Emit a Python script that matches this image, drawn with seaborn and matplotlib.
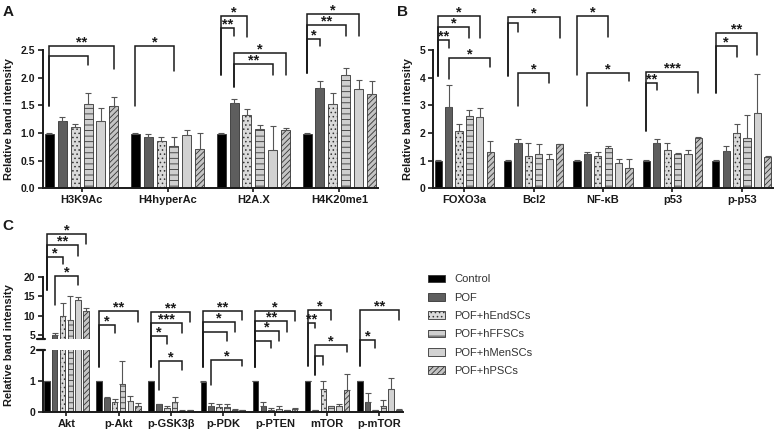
import numpy as np
import pandas as pd
import matplotlib
matplotlib.use("Agg")
import matplotlib.pyplot as plt
import seaborn as sns
from matplotlib.patches import Patch

groups = ["Control", "POF", "POF+hEndSCs", "POF+hFFSCs", "POF+hMenSCs", "POF+hPSCs"]

# panel A - histone marks
a_targets = ["H3K9Ac", "H4hyperAc", "H2A.X", "H4K20me1"]
a_means = [
    [0.99, 1.21, 1.11, 1.52, 1.21, 1.48],
    [0.99, 0.92, 0.86, 0.77, 0.96, 0.72],
    [0.99, 1.54, 1.32, 1.07, 0.70, 1.05],
    [0.98, 1.82, 1.52, 2.04, 1.80, 1.70],
]
a_errs = [
    [0.01, 0.08, 0.05, 0.20, 0.24, 0.18],
    [0.01, 0.07, 0.06, 0.15, 0.10, 0.28],
    [0.01, 0.07, 0.12, 0.07, 0.43, 0.04],
    [0.02, 0.12, 0.20, 0.13, 0.15, 0.24],
]

# panel B - apoptosis / stress
b_targets = ["FOXO3a", "Bcl2", "NF-κB", "p53", "p-p53"]
b_means = [
    [1.0, 2.95, 2.06, 2.62, 2.57, 1.32],
    [1.0, 1.63, 1.18, 1.23, 1.06, 1.61],
    [1.0, 1.23, 1.17, 1.46, 0.90, 0.72],
    [1.0, 1.63, 1.38, 1.26, 1.26, 1.81],
    [1.0, 1.36, 1.99, 1.83, 2.71, 1.14],
]
b_errs = [
    [0.01, 0.78, 0.25, 0.23, 0.34, 0.40],
    [0.01, 0.14, 0.45, 0.37, 0.20, 0.01],
    [0.01, 0.07, 0.13, 0.07, 0.16, 0.34],
    [0.01, 0.14, 0.25, 0.01, 0.12, 0.06],
    [0.01, 0.17, 0.33, 0.84, 1.41, 0.02],
]

# panel C - Akt/mTOR pathway
c_targets = ["Akt", "p-Akt", "p-GSK3β", "p-PDK", "p-PTEN", "mTOR", "p-mTOR"]
c_means = [
    [1.0, 5.0, 10.0, 9.0, 14.0, 11.3],
    [1.0, 0.46, 0.33, 0.89, 0.36, 0.17],
    [1.0, 0.25, 0.13, 0.30, 0.03, 0.05],
    [0.97, 0.20, 0.15, 0.14, 0.07, 0.05],
    [1.0, 0.19, 0.07, 0.10, 0.05, 0.10],
    [1.0, 0.05, 0.75, 0.17, 0.20, 0.72],
    [1.0, 0.30, 0.05, 0.20, 0.75, 0.05],
]
c_errs = [
    [0.01, 0.6, 3.3, 6.0, 0.8, 0.7],
    [0.01, 0.02, 0.09, 0.76, 0.15, 0.10],
    [0.01, 0.01, 0.07, 0.18, 0.01, 0.01],
    [0.01, 0.08, 0.10, 0.12, 0.02, 0.01],
    [0.01, 0.12, 0.06, 0.08, 0.01, 0.03],
    [0.01, 0.01, 0.23, 0.02, 0.05, 0.51],
    [0.01, 0.32, 0.01, 0.17, 0.34, 0.05],
]

# significance brackets: (target idx, left bar, right bar, top, left foot, right foot, label)
a_brackets = [
    (0, 0, 5, 2.57, 1.48, 2.15, "**"),
    (0, 0, 3, 2.40, 1.48, 2.23, ""),
    (1, 0, 3, 2.57, 1.48, 2.13, "*"),
    (2, 0, 2, 3.12, 2.05, 2.73, "*"),
    (2, 0, 1, 2.89, 2.05, 2.75, "**"),
    (2, 1, 5, 2.45, 1.83, 2.05, "*"),
    (2, 1, 4, 2.24, 1.83, 2.05, "**"),
    (3, 0, 4, 3.15, 2.09, 2.76, "*"),
    (3, 0, 3, 2.95, 2.09, 2.76, "**"),
    (3, 0, 1, 2.70, 2.09, 2.57, "*"),
]
b_brackets = [
    (0, 0, 4, 6.23, 4.06, 5.42, "*"),
    (0, 0, 3, 5.84, 4.06, 5.44, "*"),
    (0, 0, 1, 5.38, 4.06, 5.08, "**"),
    (0, 1, 5, 4.73, 3.94, 4.37, "*"),
    (1, 0, 5, 6.18, 4.06, 5.44, "*"),
    (1, 0, 1, 5.96, 4.06, 5.66, ""),
    (1, 1, 4, 4.16, 2.97, 3.82, "*"),
    (2, 0, 3, 6.23, 4.10, 5.46, "*"),
    (2, 1, 5, 4.18, 2.97, 3.89, "*"),
    (3, 0, 5, 4.21, 2.08, 3.46, "***"),
    (3, 0, 1, 3.82, 2.08, 3.55, "**"),
    (4, 0, 4, 5.62, 3.46, 4.82, "**"),
    (4, 0, 2, 5.14, 3.46, 4.76, "*"),
]
c_top_brackets = [
    (0, 0, 5, 31.0, 16.7, 28.4, "*"),
    (0, 0, 4, 28.3, 16.7, 25.5, "**"),
    (0, 0, 2, 25.2, 16.7, 23.3, "*"),
    (0, 1, 4, 20.3, 12.9, 18.0, "*"),
]
c_brackets = [
    (1, 0, 5, 3.25, 1.45, 2.90, "**"),
    (1, 0, 2, 2.82, 1.45, 2.56, "*"),
    (2, 0, 5, 3.24, 1.45, 2.90, "**"),
    (2, 0, 4, 2.88, 1.45, 2.56, "***"),
    (2, 0, 2, 2.44, 1.45, 2.20, "*"),
    (2, 1, 4, 1.65, 0.70, 1.35, "*"),
    (3, 0, 5, 3.28, 1.45, 2.96, "**"),
    (3, 0, 4, 2.90, 1.45, 2.58, "*"),
    (3, 0, 3, 2.58, 1.45, 2.28, ""),
    (3, 1, 5, 1.67, 0.86, 1.47, "*"),
    (4, 0, 5, 3.28, 1.45, 2.93, "*"),
    (4, 0, 4, 2.93, 1.45, 2.58, "**"),
    (4, 0, 3, 2.63, 1.45, 2.28, "*"),
    (4, 0, 2, 2.28, 1.45, 2.05, ""),
    (5, 0, 3, 3.30, 1.48, 2.96, "*"),
    (5, 0, 1, 2.88, 1.48, 2.71, "**"),
    (5, 1, 5, 2.15, 1.18, 1.94, "*"),
    (5, 1, 2, 1.80, 1.18, 1.53, ""),
    (6, 0, 5, 3.30, 1.48, 2.96, "**"),
    (6, 0, 2, 2.31, 1.48, 2.05, "*"),
]

fills = ["#000000", "#5e5e5e", "#dadada", "#cfcfcf", "#d2d2d2", "#c4c4c4"]
hatches = ["", "", "....", "---", "", "//////"]
edge = "#333333"
ink = "#1a1a1a"

sns.set_style("ticks")
plt.rcParams["font.family"] = ["Liberation Sans", "DejaVu Sans"]
plt.rcParams["hatch.linewidth"] = 0.6
plt.rcParams["hatch.color"] = "#444444"


def draw_bars(ax, targets, means, errs):
    df = pd.DataFrame({
        "target": np.repeat(targets, len(groups)),
        "group": groups * len(targets),
        "value": np.ravel(means),
    })
    sns.barplot(data=df, x="target", y="value", hue="group", order=targets,
                hue_order=groups, palette=dict(zip(groups, fills)), width=0.9,
                gap=0.3, errorbar=None, edgecolor=edge, linewidth=0.6,
                legend=False, ax=ax)
    err = np.array(errs)
    for i, (cont, h) in enumerate(zip(ax.containers, hatches)):
        xs, ys = [], []
        for p in cont:
            p.set_hatch(h)
            xs.append(p.get_x() + p.get_width() / 2)
            ys.append(p.get_height())
        ax.errorbar(xs, ys, yerr=[np.zeros(len(xs)), err[:, i]], fmt="none",
                    ecolor="#555555", elinewidth=0.8, capsize=2, capthick=0.8)


def draw_brackets(ax, brackets):
    for g, b0, b1, top, yl, yr, lab in brackets:
        x0 = g + (b0 - 2.5) * 0.15
        x1 = g + (b1 - 2.5) * 0.15
        ax.plot([x0, x0, x1, x1], [yl, top, top, yr], color=ink, lw=1.1,
                clip_on=False, solid_joinstyle="miter")
        if lab:
            ax.annotate(lab, ((x0 + x1) / 2, top), xytext=(0, -2.5),
                        textcoords="offset points", ha="center", va="bottom",
                        fontsize=10.5, fontweight="bold", color=ink,
                        annotation_clip=False)


def style(ax, n, ylim, yticks, labels=None, bottom=True):
    ax.set_xlim(-0.45, n - 0.55)
    ax.set_ylim(*ylim)
    ax.set_yticks(yticks)
    if labels is not None:
        ax.set_yticklabels(labels)
    ax.set_xlabel("")
    ax.set_ylabel("")
    sns.despine(ax=ax, bottom=not bottom)
    for s in ["left", "bottom"]:
        ax.spines[s].set_linewidth(1.4)
        ax.spines[s].set_color(ink)
    ax.tick_params(axis="y", length=3.5, width=1.2, labelsize=7.5, pad=2, colors=ink)
    ax.tick_params(axis="x", length=3, width=1.2, labelsize=8, pad=2, colors=ink)
    for t in ax.get_yticklabels() + ax.get_xticklabels():
        t.set_fontweight("bold")
    if not bottom:
        ax.set_xticks([])
    ax.patch.set_alpha(0)


fig = plt.figure(figsize=(7.84, 4.36), dpi=100)

axA = fig.add_axes([0.0548, 0.568, 0.4273, 0.3172])
draw_bars(axA, a_targets, a_means, a_errs)
style(axA, 4, (0, 2.5), [0, 0.5, 1.0, 1.5, 2.0, 2.5],
      ["0.0", "0.5", "1.0", "1.5", "2.0", "2.5"])
draw_brackets(axA, a_brackets)

axB = fig.add_axes([0.5523, 0.568, 0.4337, 0.3172])
draw_bars(axB, b_targets, b_means, b_errs)
style(axB, 5, (0, 5), [0, 1, 2, 3, 4, 5])
draw_brackets(axB, b_brackets)

# broken y axis for panel C: upper part first so the lower brackets draw over it
axCu = fig.add_axes([0.0548, 0.2225, 0.459, 0.1422])
draw_bars(axCu, c_targets, c_means, c_errs)
style(axCu, 7, (4, 20), [5, 10, 15, 20], bottom=False)
draw_brackets(axCu, c_top_brackets)

axC = fig.add_axes([0.0548, 0.0557, 0.459, 0.1415])
draw_bars(axC, c_targets, c_means, c_errs)
style(axC, 7, (0, 2), [0, 1, 2])
draw_brackets(axC, c_brackets)

# axis break marks
axCu.plot([-0.016, 0.006], [0, 0], transform=axCu.transAxes, color=ink, lw=1.6, clip_on=False)
axC.plot([-0.016, 0.006], [1, 1], transform=axC.transAxes, color=ink, lw=1.6, clip_on=False)

ylab = dict(rotation=90, ha="center", va="center", fontsize=8, fontweight="bold", color=ink)
fig.text(9 / 784, 1 - 119 / 436, "Relative band intensity", **ylab)
fig.text(408 / 784, 1 - 119 / 436, "Relative band intensity", **ylab)
fig.text(9 / 784, 1 - 345 / 436, "Relative band intensity", **ylab)

letter = dict(ha="center", va="center", fontsize=11, fontweight="bold", color=ink)
fig.text(8 / 784, 1 - 12 / 436, "A", **letter)
fig.text(402 / 784, 1 - 12 / 436, "B", **letter)
fig.text(8 / 784, 1 - 226 / 436, "C", **letter)

handles = [Patch(facecolor=f, edgecolor=edge, hatch=h, linewidth=0.6)
           for f, h in zip(fills, hatches)]
fig.legend(handles, groups, loc="upper left", bbox_to_anchor=(424 / 784, 1 - 270 / 436),
           frameon=False, fontsize=8, handlelength=1.5, handleheight=0.7,
           labelspacing=0.75, handletextpad=0.8, borderaxespad=0, labelcolor="#333333")

fig.savefig("out.png", dpi=100)
